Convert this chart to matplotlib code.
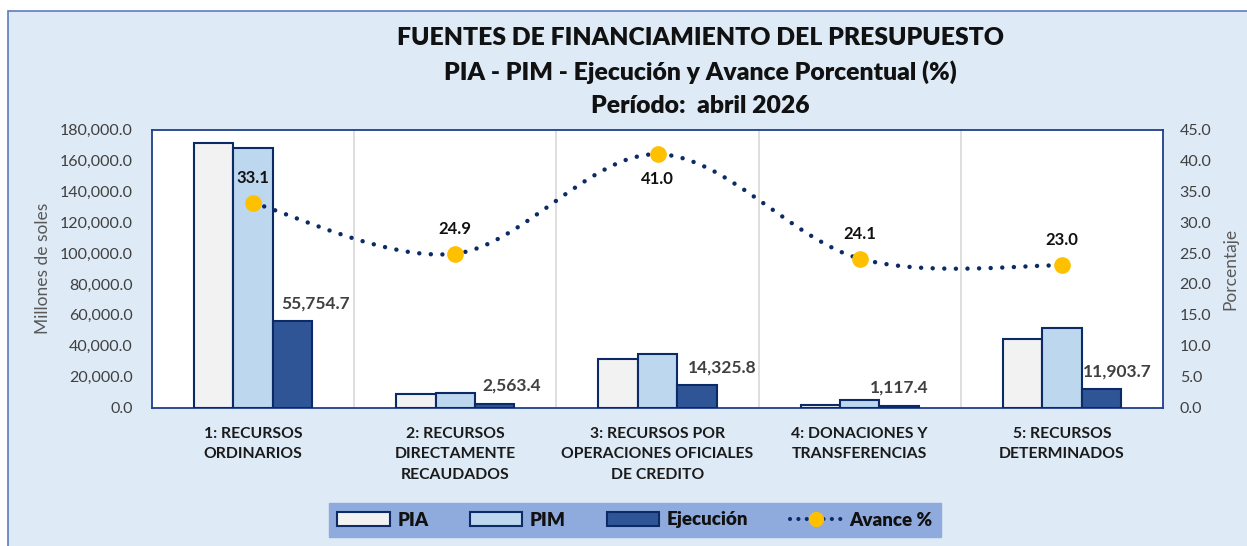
import matplotlib
matplotlib.use("Agg")
import matplotlib.pyplot as plt
from matplotlib.patches import Rectangle, Patch, PathPatch
from matplotlib.path import Path
from matplotlib.lines import Line2D
import numpy as np

categories = ["1: RECURSOS\nORDINARIOS",
              "2: RECURSOS\nDIRECTAMENTE\nRECAUDADOS",
              "3: RECURSOS POR\nOPERACIONES OFICIALES\nDE CREDITO",
              "4: DONACIONES Y\nTRANSFERENCIAS",
              "5: RECURSOS\nDETERMINADOS"]
pia = [171300, 8600, 31600, 1450, 44500]
pim = [168300, 9700, 34700, 5150, 51450]
ejecucion = [55754.7, 2563.4, 14325.8, 1117.4, 11903.7]
avance = [33.1, 24.9, 41.0, 24.1, 23.0]

FONT = ["Lato", "DejaVu Sans"]
plt.rcParams['font.family'] = FONT

W, H = 1247, 546
fig = plt.figure(figsize=(W/100, H/100), dpi=100, facecolor="white")

# outer chart frame
bg = Rectangle((8/W, -0.01), 1.02, 1 - 11/H + 0.01, transform=fig.transFigure,
               facecolor="#DEEAF6", edgecolor="#5B7DBE", linewidth=1.2, zorder=-10)
fig.patches.append(bg)

left, right = 152/W, 1163/W
bottom, top = (H-407.5)/H, (H-129.5)/H
ax = fig.add_axes([left, bottom, right-left, top-bottom])
ax.set_facecolor("white")
ax2 = ax.twinx()

x = np.arange(len(categories))
bw = 0.195
edge = "#0B2A66"
ax.bar(x - bw, pia, bw, color="#F2F2F2", edgecolor=edge, linewidth=1.5, zorder=3, label="PIA")
ax.bar(x, pim, bw, color="#BDD7EE", edgecolor=edge, linewidth=1.5, zorder=3, label="PIM")
ax.bar(x + bw, ejecucion, bw, color="#2F5597", edgecolor=edge, linewidth=1.5, zorder=3, label="Ejecución")

ax.set_xlim(-0.5, len(categories) - 0.5)
ax.set_ylim(0, 180000)
ax.set_yticks(np.arange(0, 180001, 20000))
ax.set_yticklabels([f"{v:,.1f}" for v in np.arange(0, 180001, 20000)])
ax.set_xticks(x)
ax.set_xticklabels(categories, fontweight="bold", fontsize=11.3, color="#1A1A1A", linespacing=1.58)
ax.tick_params(axis="both", length=0)
ax.tick_params(axis="y", labelsize=11.5, labelcolor="#404040", pad=14)
ax.tick_params(axis="x", pad=14)
for b in np.arange(0.5, len(categories) - 0.5, 1):
    ax.axvline(b, color="#D9D9D9", linewidth=1.2, zorder=1)
for s in ax.spines.values():
    s.set_color("#1F3F8A")
    s.set_linewidth(1.3)
for s in ax2.spines.values():
    s.set_visible(False)

ax.set_ylabel("Millones de soles", fontsize=12.5, color="#595959", labelpad=6)

# data labels for Ejecución
xoff = [23, 17, 25, 0, 16]
for i, v in enumerate(ejecucion):
    ax.annotate(f"{v:,.1f}", (x[i] + bw, v), xytext=(xoff[i], 18), textcoords="offset pixels",
                ha="center", va="center", fontsize=12.5, fontweight="bold", color="#404040", zorder=6)

# secondary axis
ax2.set_ylim(0, 45)
ax2.set_yticks(np.arange(0, 45.1, 5))
ax2.set_yticklabels([f"{v:.1f}" for v in np.arange(0, 45.1, 5)])
ax2.tick_params(axis="y", length=0, labelsize=11.5, labelcolor="#404040", pad=12)
ax2.set_ylabel("Porcentaje", fontsize=12.5, color="#595959", labelpad=8)

# smoothed line (Excel-like bezier smoothing)
pts = np.column_stack([x, avance]).astype(float)
ext = np.vstack([pts[0], pts, pts[-1]])
verts = [tuple(pts[0])]
codes = [Path.MOVETO]
for i in range(len(pts) - 1):
    p0, p1, p2, p3 = ext[i], ext[i+1], ext[i+2], ext[i+3]
    c1 = p1 + (p2 - p0) / 6
    c2 = p2 - (p3 - p1) / 6
    verts += [tuple(c1), tuple(c2), tuple(p2)]
    codes += [Path.CURVE4] * 3
path = Path(verts, codes)
pp = PathPatch(path, facecolor="none", edgecolor="#0B2A66", linewidth=3.2,
               linestyle=(0, (0.01, 2.6)), capstyle="round", zorder=4)
ax2.add_patch(pp)
ax2.plot(x, avance, linestyle="none", marker="o", markersize=11, color="#FFC000",
         markeredgecolor="#FFC000", zorder=5)
yoff = [25, 25, -25, 25, 25]
for i, v in enumerate(avance):
    ax2.annotate(f"{v:.1f}", (x[i], v), xytext=(0, yoff[i]), textcoords="offset pixels",
                 ha="center", va="center", fontsize=12, fontweight="bold", color="#111111", zorder=6)

# title
for txt, yy in [("FUENTES DE FINANCIAMIENTO DEL PRESUPUESTO", 38),
                ("PIA - PIM - Ejecución y Avance Porcentual (%)", 72),
                ("Período:  abril 2026", 106)]:
    fig.text(700/W, 1 - yy/H, txt, ha="center", va="center",
             fontsize=17.8, fontweight="heavy", color="#111111")

# legend
handles = [Patch(facecolor="#F2F2F2", edgecolor=edge, linewidth=1.5, label="PIA"),
           Patch(facecolor="#BDD7EE", edgecolor=edge, linewidth=1.5, label="PIM"),
           Patch(facecolor="#2F5597", edgecolor=edge, linewidth=1.5, label="Ejecución"),
           Line2D([0], [0], color="#0B2A66", linewidth=3, linestyle=(0, (0.01, 2.0)),
                  dash_capstyle="round", marker="o", markersize=10, markerfacecolor="#FFC000",
                  markeredgecolor="#FFC000", label="Avance %")]
leg = fig.legend(handles=handles, loc="center", bbox_to_anchor=(635/W, 1 - 520/H), ncol=4,
                 frameon=True, fancybox=False, facecolor="#8FAADC", edgecolor="#8FAADC",
                 framealpha=1, prop={"family": FONT, "weight": "heavy", "size": 13.5},
                 handlelength=2.8, handleheight=0.85, columnspacing=2.2, handletextpad=0.4,
                 borderpad=0.45, borderaxespad=0)
for t in leg.get_texts():
    t.set_color("#111111")

fig.savefig("out.png", dpi=100, facecolor="white")
